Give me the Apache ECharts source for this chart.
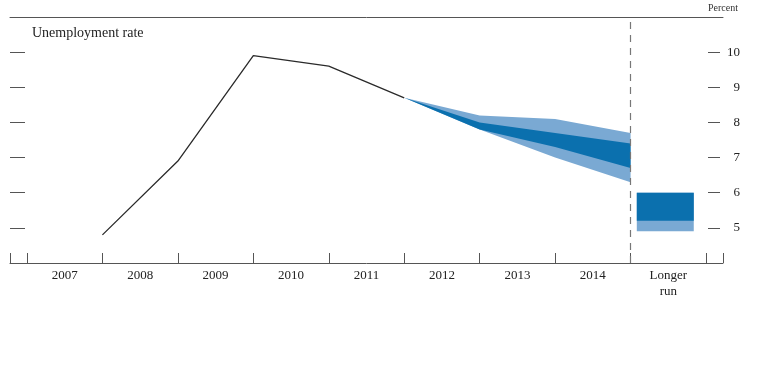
<!DOCTYPE html>
<html>
<head>
<meta charset="utf-8">
<script src="https://cdn.jsdelivr.net/npm/echarts@6/dist/echarts.min.js"></script>
<style>
html,body{margin:0;padding:0;background:#fff;}
#chart{width:768px;height:390px;}
</style>
</head>
<body>
<div id="chart"></div>
<script>
// ---- Data ----
const periodLabels = ['2007', '2008', '2009', '2010', '2011', '2012', '2013', '2014', 'Longer\nrun'];
// Q4 values of unemployment rate, plotted at the end of each year (2007..2011)
const histPos = [1, 2, 3, 4, 5];
const histVals = [4.8, 6.9, 9.9, 9.6, 8.7];
// Projection points: end of 2011 (start), 2012, 2013, 2014
const projPos = [5, 6, 7, 8];
const rangeLow = [8.7, 7.8, 7.0, 6.3];
const rangeHigh = [8.7, 8.2, 8.1, 7.7];
const ctLow = [8.7, 7.8, 7.3, 6.7];
const ctHigh = [8.7, 8.0, 7.7, 7.4];
// Longer run
const longRunPos = 8.46;
const longRunRange = [4.9, 6.0];
const longRunCT = [5.2, 6.0];
const yTicks = [5, 6, 7, 8, 9, 10];
const xBoundaries = [0, 1, 2, 3, 4, 5, 6, 7, 8, 9];
const labelPos = [0.5, 1.5, 2.5, 3.5, 4.5, 5.5, 6.5, 7.5, 8.5];

const X_MIN = -0.225, X_MAX = 9.225, Y_MIN = 4, Y_MAX = 11;
const DARK = '#0b70ae', LIGHT = '#7aa9d3';
const AXIS = '#555';
const FONT = '"Liberation Serif", "Times New Roman", serif';

function bandRender(lo, hi, color) {
  return function (params, api) {
    const pts = [];
    for (let i = 0; i < projPos.length; i++) pts.push(api.coord([projPos[i], hi[i]]));
    for (let i = projPos.length - 1; i >= 0; i--) pts.push(api.coord([projPos[i], lo[i]]));
    return { type: 'polygon', shape: { points: pts }, style: { fill: color, stroke: null } };
  };
}
function boxRender(params, api) {
  const x = api.value(0), lo = api.value(1), hi = api.value(2);
  const w = api.size([1, 0])[0] * 0.755;
  const p1 = api.coord([x, hi]);
  const p2 = api.coord([x, lo]);
  return { type: 'rect', shape: { x: p1[0] - w / 2, y: p1[1], width: w, height: p2[1] - p1[1] },
           style: { fill: api.value(3) === 1 ? DARK : LIGHT } };
}

const chart = echarts.init(document.getElementById('chart'), null, { renderer: 'canvas' });
chart.setOption({
  animation: false,
  backgroundColor: '#fff',
  title: [
    { text: 'Unemployment rate', left: 32, top: 26, padding: 0,
      textStyle: { fontFamily: FONT, fontSize: 14, fontWeight: 'normal', color: '#222' } },
    { text: 'Percent', left: 708, top: 3, padding: 0,
      textStyle: { fontFamily: FONT, fontSize: 10, fontWeight: 'normal', color: '#333' } }
  ],
  grid: { left: 10, right: 45, top: 17, bottom: 127, containLabel: false },
  xAxis: [
    { type: 'value', position: 'bottom', min: X_MIN, max: X_MAX,
      axisLine: { show: true, onZero: false, lineStyle: { color: AXIS, width: 1 } },
      axisTick: { show: true, inside: true, length: 10, lineStyle: { color: AXIS },
                  customValues: [X_MIN].concat(xBoundaries, [X_MAX]) },
      axisLabel: { show: true, customValues: labelPos, margin: 5, verticalAlign: 'top',
                   fontFamily: FONT, fontSize: 13, color: '#222', lineHeight: 16,
                   formatter: function (v) { return periodLabels[Math.floor(v)] || ''; } },
      splitLine: { show: false } },
    { type: 'value', position: 'top', min: X_MIN, max: X_MAX,
      axisLine: { show: true, onZero: false, lineStyle: { color: AXIS, width: 1 } },
      axisTick: { show: false }, axisLabel: { show: false }, splitLine: { show: false } }
  ],
  yAxis: [
    { type: 'value', position: 'left', min: Y_MIN, max: Y_MAX,
      axisLine: { show: false, onZero: false },
      axisTick: { show: true, inside: true, length: 15, lineStyle: { color: AXIS }, customValues: yTicks },
      axisLabel: { show: false }, splitLine: { show: false } },
    { type: 'value', position: 'right', offset: -3, min: Y_MIN, max: Y_MAX,
      axisLine: { show: false, onZero: false },
      axisTick: { show: true, inside: true, length: 12, lineStyle: { color: AXIS }, customValues: yTicks },
      axisLabel: { show: true, customValues: yTicks, align: 'right', margin: 20,
                   fontFamily: FONT, fontSize: 13, color: '#222' },
      splitLine: { show: false } }
  ],
  series: [
    { type: 'custom', name: 'range', xAxisIndex: 0, yAxisIndex: 0,
      renderItem: bandRender(rangeLow, rangeHigh, LIGHT), data: [[projPos[0], rangeLow[0]]], z: 2 },
    { type: 'custom', name: 'ct', xAxisIndex: 0, yAxisIndex: 0,
      renderItem: bandRender(ctLow, ctHigh, DARK), data: [[projPos[0], ctLow[0]]], z: 3 },
    { type: 'custom', name: 'longrun', xAxisIndex: 0, yAxisIndex: 0,
      renderItem: boxRender,
      data: [[longRunPos, longRunRange[0], longRunRange[1], 0], [longRunPos, longRunCT[0], longRunCT[1], 1]], z: 2 },
    { type: 'line', name: 'history', xAxisIndex: 0, yAxisIndex: 0,
      data: histPos.map((p, i) => [p, histVals[i]]),
      symbol: 'none', lineStyle: { color: '#2a2a2a', width: 1.3 }, z: 4,
      markLine: { silent: true, symbol: 'none', label: { show: false },
                  lineStyle: { type: [7, 6], color: '#777', width: 1.2 },
                  data: [{ xAxis: 8 }] } }
  ]
});
</script>
</body>
</html>
